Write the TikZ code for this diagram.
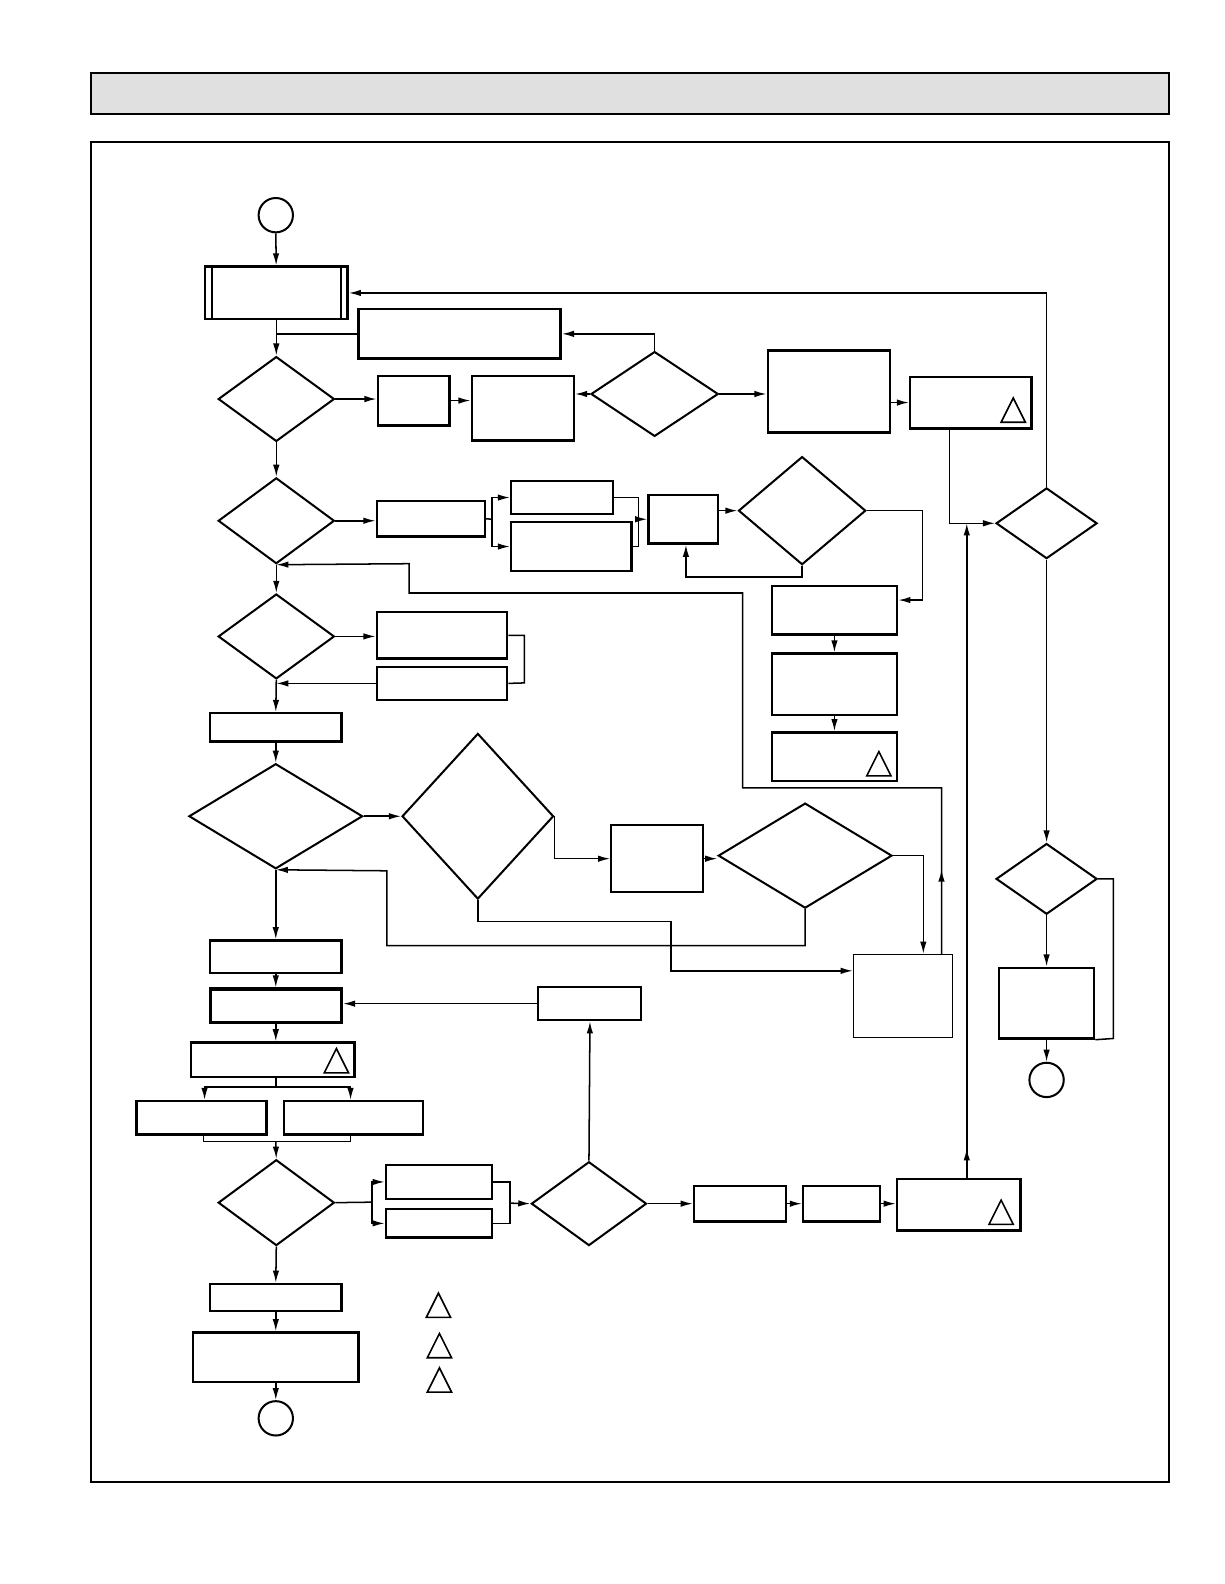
\documentclass[tikz,border=0pt]{standalone}
\usetikzlibrary{arrows.meta,shapes.geometric,decorations.markings}
\tikzset{
 box/.style={draw, line width=1.2pt, inner sep=0pt, rectangle},
 thinbox/.style={line width=0.8pt},
 dia/.style={draw, diamond, line width=1pt, inner sep=0pt},
 term/.style={draw, circle, line width=1pt, inner sep=0pt, minimum size=17pt},
 conn/.style={line width=0.75pt},
 arr/.style={conn, -{Latex[length=6pt,width=3.2pt]}},
 tri/.style={line width=0.8pt},
 midarr/.style={postaction={decorate},decoration={markings, mark=at position #1 with {\arrow{Latex[length=6pt,width=3.2pt]}}}}
}
\newcommand\bx[6][]{%
 \pgfmathsetmacro\bxcx{(#3+#5)/2}\pgfmathsetmacro\bxcy{(#4+#6)/2}%
 \pgfmathsetmacro\bxw{(#5-#3)*0.5}\pgfmathsetmacro\bxh{(#6-#4)*0.5}%
 \node[box,#1,minimum width=\bxw pt,minimum height=\bxh pt] (#2) at (\bxcx,\bxcy) {};}
\newcommand\dm[6][]{%
 \pgfmathsetmacro\bxcx{(#3+#5)/2}\pgfmathsetmacro\bxcy{(#4+#6)/2}%
 \pgfmathsetmacro\bxw{(#5-#3)*0.5}\pgfmathsetmacro\bxh{(#6-#4)*0.5}%
 \node[dia,#1,minimum width=\bxw pt,minimum height=\bxh pt] (#2) at (\bxcx,\bxcy) {};}
\newcommand\tria[2]{\draw[tri] (#1-12,#2+12) -- (#1,#2-12) -- (#1+12,#2+12) -- cycle;}
\begin{document}
\begin{tikzpicture}[x=0.5pt,y=-0.5pt]
\useasboundingbox (0,0) rectangle (1212,1568);
% header and frame
\draw[line width=1.2pt, fill={rgb,255:red,224;green,224;blue,224}] (90,72) rectangle (1157,113);
\draw[line width=1pt] (90,141) rectangle (1157,1467);

% nodes
\node[term] (S) at (273,213) {};
\bx{B1}{203}{264}{344}{316}
\draw[line width=1pt] ([xshift=4pt]B1.north west) -- ([xshift=4pt]B1.south west);
\draw[line width=1pt] ([xshift=-4pt]B1.north east) -- ([xshift=-4pt]B1.south east);
\bx{B2}{355}{306}{555}{355}
\dm{D1}{216}{353}{331}{437}
\bx{R1a}{374}{372}{445}{421}
\bx{R1b}{467}{372}{568}{436}
\dm{D1b}{585}{348}{711}{432}
\bx{R1c}{760}{347}{881}{428}
\bx{R1d}{901}{373}{1021}{424}
\dm{D4}{986}{483}{1086}{553}
\dm{D2}{216}{473}{331}{558}
\bx{R2a}{373}{496}{480}{531}
\bx{R2b}{506}{476}{607}{509}
\bx{R2c}{506}{517}{625}{565}
\bx{R2d}{642}{490}{711}{538}
\dm{D2b}{731}{452}{857}{559}
\bx{R3r1}{764}{580}{888}{628}
\bx{R3r2}{764}{647}{888}{708}
\bx{R3r3}{764}{725}{888}{773}
\dm{D3}{216}{588}{331}{672}
\bx{R3a}{373}{606}{502}{652}
\bx{R3b}{373}{660}{502}{693}
\bx{R4}{208}{706}{338}{734}
\dm{D5}{187}{756}{359}{860}
\dm{D5b}{398}{726}{548}{890}
\bx[line width=1pt]{R5}{605}{817}{696}{883}
\dm{D5c}{711}{795}{883}{899}
\bx[thinbox]{R7}{845}{945}{943}{1027}
\bx{R6a}{208}{931}{338}{963}
\bx[line width=1.5pt]{R6b}{208}{979}{338}{1012}
\bx{R6c}{189}{1032}{351}{1066}
\bx{R6d}{135}{1090}{264}{1123}
\bx{R6e}{281}{1090}{419}{1123}
\bx[line width=1pt]{RS}{533}{977}{635}{1010}
\dm{D6}{216}{1148}{331}{1233}
\bx{R8a}{382}{1153}{487}{1187}
\bx{R8b}{382}{1197}{487}{1225}
\dm{D6b}{526}{1150}{640}{1233}
\bx{R8c}{687}{1174}{778}{1209}
\bx{R8d}{795}{1174}{871}{1209}
\bx{R8e}{888}{1167}{1010}{1218}
\bx{R9}{208}{1271}{338}{1298}
\bx{R10}{191}{1319}{355}{1368}
\node[term] (E1) at (273,1404) {};
\dm{D7}{986}{835}{1086}{905}
\bx{R11}{989}{958}{1083}{1028}
\node[term] (E2) at (1036,1069) {};

% triangles
\tria{1003}{406}
\tria{870}{756}
\tria{333}{1050}
\tria{991}{1200}
\tria{434}{1292}
\tria{435}{1332}
\tria{435}{1366}

% coordinates
\coordinate (s2) at (487,514);
\coordinate (m2) at (632,514);
\coordinate (k1) at (913,594);
\coordinate (k2) at (679,571);
\coordinate (s6) at (273,1076);
\coordinate (m6) at (273,1130);
\coordinate (s8) at (368,1190);
\coordinate (m8) at (505,1191);
\coordinate (j4) at (957,518);

% connectors, top
\draw[arr] (S) -- (B1);
\draw[arr] (B1.south) -- (D1.north);
\draw[conn] (B2.west) -- (B2.west -| B1.south);
\draw[arr] (D1b.north) |- (B2.east);
\draw[arr] (D1.east) -- (D1.east -| R1a.west);
\draw[arr] (R1a.east) -- (R1a.east -| R1b.west);
\draw[arr] (D1b.west) -- (D1b.west -| R1b.east);
\draw[arr] (D1b.east) -- (D1b.east -| R1c.west);
\draw[arr] (R1d.west -| R1c.east) -- (R1d.west);
\draw[arr] ([xshift=-10.5pt]R1d.south) |- (D4.west);
\draw[arr] (D4.north) |- (B1.east);
\draw[arr] (D4.south) -- (D7.north);
\draw[arr, midarr=0.045] (j4 |- R8e.north) -- (j4);

% row 2
\draw[arr] (D1.south) -- (D2.north);
\draw[arr] (D2.east) -- (D2.east -| R2a.west);
\draw[conn] (R2a.east) -- (s2);
\draw[arr] (s2) |- (R2b.west);
\draw[arr] (s2) |- (R2c.west);
\draw[conn] (R2b.east) -| (m2);
\draw[conn] (R2c.east) -| (m2);
\draw[arr] (m2) -- (m2 -| R2d.west);
\draw[arr] (R2d.east |- D2b.west) -- (D2b.west);
\draw[arr] (D2b.east) -| (k1) -- (k1 -| R3r1.east);
\draw[arr] (D2b.south) |- (k2) -- (k2 |- R2d.south);
\draw[arr] (R3r1.south) -- (R3r2.north);
\draw[arr] (R3r2.south) -- (R3r3.north);
\draw[arr, midarr=0.08] ([xshift=19pt]R7.north) -- (932,780) -- (735,780) -- (735,587) -- (405,587) -- (405,558) -- (D2.south);

% row 3
\draw[arr] (D2.south) -- (D3.north);
\draw[arr] (D3.east) -- (D3.east -| R3a.west);
\draw[conn] (R3a.east) -| (519,676) -- (R3b.east);
\draw[arr] (R3b.west) -- (R3b.west -| D3.south);
\draw[arr] (D3.south) -- (R4.north);
\draw[arr] (R4.south) -- (D5.north);

% row 5
\draw[arr] (D5.east) -- (D5b.west);
\draw[arr] (D5b.east) |- (R5.west);
\draw[arr] (R5.east) -- (R5.east -| D5c.west);
\draw[arr] (D5c.east) -| ([xshift=10pt]R7.north);
\draw[arr] (D5c.south) |- (383,936) -- (383,862) -- (D5.south);
\draw[arr] (D5b.south) |- (664,912) -- (664,961) -- (664,961 -| R7.west);

% lower left column
\draw[arr] (D5.south) -- (R6a.north);
\draw[arr] (R6a.south) -- (R6b.north);
\draw[arr] (R6b.south) -- (R6b.south |- R6c.north);
\draw[conn] (s6 |- R6c.south) -- (s6);
\draw[arr] (s6) -| ([xshift=1.5pt]R6d.north);
\draw[arr] (s6) -| ([xshift=-1.5pt]R6e.north);
\draw[conn] ([xshift=1pt]R6d.south) |- (m6);
\draw[conn] ([xshift=-1.5pt]R6e.south) |- (m6);
\draw[arr] (m6) -- (D6.north);
\draw[arr] (RS.west) -- (RS.west -| R6b.east);
\draw[arr] (D6b.north) -- (RS.south);

% row 6
\draw[conn] (D6.east) -- (s8);
\draw[arr] (s8) |- (R8a.west);
\draw[arr] (s8) |- (R8b.west);
\draw[conn] (R8a.east) -| (m8);
\draw[conn] (R8b.east) -| (m8);
\draw[arr] (m8) -- (D6b.west);
\draw[arr] (D6b.east) -- (D6b.east -| R8c.west);
\draw[arr] (R8c.east) -- (R8d.west);
\draw[arr] (R8d.east) -- (R8d.east -| R8e.west);
\draw[arr] (D6.south) -- (R9.north);
\draw[arr] (R9.south) -- (R10.north);
\draw[arr] (R10.south) -- (E1.north);

% right column
\draw[arr] (D7.south) -- (R11.north);
\draw[conn] (D7.east) -| (1102,1028) -- (R11.south east);
\draw[arr] (R11.south) -- (E2.north);
\end{tikzpicture}
\end{document}
